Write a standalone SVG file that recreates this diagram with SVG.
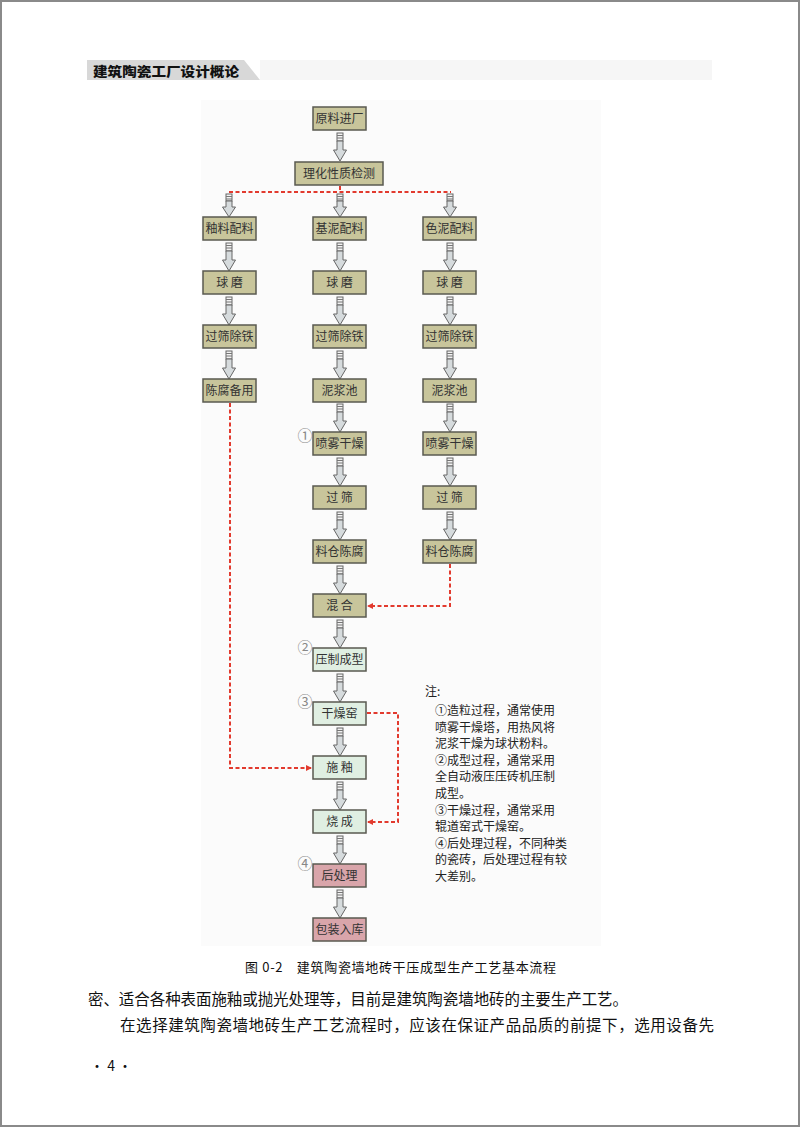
<svg xmlns="http://www.w3.org/2000/svg" width="800" height="1127" viewBox="0 0 800 1127">
<defs>
<style>
.olive{fill:#c8c59b;stroke:#5a5a50;stroke-width:1.5}
.mint{fill:#e0efe2;stroke:#5a5a50;stroke-width:1.5}
.pink{fill:#d9a5aa;stroke:#5a5a50;stroke-width:1.5}
.lbl{font-family:"Noto Sans CJK SC",sans-serif;font-size:12px;fill:#333;text-anchor:middle}
.num{font-family:"Noto Sans CJK SC",sans-serif;font-size:15px;fill:#888;text-anchor:middle}
.note{font-family:"Noto Sans CJK SC",sans-serif;font-size:12px;fill:#222}
.body{font-family:"Noto Sans CJK SC",sans-serif;font-size:15.5px;fill:#111}
.red{fill:none;stroke:#e23a2e;stroke-width:2;stroke-dasharray:4 2.5}
</style>
<g id="arrowL">
<rect x="-3" y="2" width="6" height="8" fill="#f2f2f2" stroke="#666" stroke-width="1"/>
<line x1="-3" y1="4.5" x2="3" y2="4.5" stroke="#777" stroke-width="1"/>
<line x1="-3" y1="7" x2="3" y2="7" stroke="#777" stroke-width="1"/>
<polygon points="-3,10 3,10 3,19 6.5,19 0,30 -6.5,19 -3,19" fill="#d6dbdd" stroke="#666" stroke-width="1"/>
</g>
<g id="arrowS">
<rect x="-3" y="1" width="6" height="7" fill="#f2f2f2" stroke="#666" stroke-width="1"/>
<line x1="-3" y1="3.5" x2="3" y2="3.5" stroke="#777" stroke-width="1"/>
<line x1="-3" y1="6" x2="3" y2="6" stroke="#777" stroke-width="1"/>
<polygon points="-3,8 3,8 3,14 6.5,14 0,24 -6.5,14 -3,14" fill="#d6dbdd" stroke="#666" stroke-width="1"/>
</g>
<marker id="redArrow" markerWidth="6" markerHeight="6" refX="5" refY="3" orient="auto" markerUnits="userSpaceOnUse">
<polygon points="0,0 6,3 0,6" fill="#e23a2e"/>
</marker>
</defs>
<rect x="0" y="0" width="800" height="1127" fill="#ffffff"/>
<rect x="1" y="1" width="798" height="1125" fill="none" stroke="#8a8a8a" stroke-width="2"/>
<g id="header">
<rect x="260" y="60" width="452" height="20" fill="#f6f6f6"/>
<polygon points="87,60 244,60 260,80 87,80" fill="#d8d8d8"/>
<text x="93" y="76" font-family="Noto Sans CJK SC,sans-serif" font-size="13" font-weight="900" fill="#111" textLength="146" lengthAdjust="spacingAndGlyphs">建筑陶瓷工厂设计概论</text>
</g>
<rect x="201" y="100" width="400" height="846" fill="#fbfbfb"/>
<g id="connectors">
<use href="#arrowL" x="340" y="131"/>
<line x1="340" y1="186" x2="340" y2="192" class="red"/>
<line x1="229" y1="192" x2="451" y2="192" class="red"/>
<use href="#arrowS" x="229" y="193"/>
<use href="#arrowS" x="340" y="193"/>
<use href="#arrowS" x="450" y="193"/>
<use href="#arrowL" x="229" y="241"/>
<use href="#arrowL" x="229" y="295"/>
<use href="#arrowL" x="229" y="349"/>
<use href="#arrowL" x="340" y="241"/>
<use href="#arrowL" x="340" y="295"/>
<use href="#arrowL" x="340" y="349"/>
<use href="#arrowL" x="340" y="402"/>
<use href="#arrowL" x="340" y="456"/>
<use href="#arrowL" x="340" y="510"/>
<use href="#arrowL" x="340" y="564"/>
<use href="#arrowL" x="340" y="618"/>
<use href="#arrowL" x="340" y="672"/>
<use href="#arrowL" x="340" y="726"/>
<use href="#arrowL" x="340" y="780"/>
<use href="#arrowL" x="340" y="834"/>
<use href="#arrowL" x="340" y="888"/>
<use href="#arrowL" x="450" y="241"/>
<use href="#arrowL" x="450" y="295"/>
<use href="#arrowL" x="450" y="349"/>
<use href="#arrowL" x="450" y="402"/>
<use href="#arrowL" x="450" y="456"/>
<use href="#arrowL" x="450" y="510"/>
<polyline points="230,403 230,768 311,768" class="red" marker-end="url(#redArrow)"/>
<polyline points="450,564 450,606 368,606" class="red" marker-end="url(#redArrow)"/>
<polyline points="367,713 398,713 398,822 368,822" class="red" marker-end="url(#redArrow)"/>
</g>
<g id="n1"><rect x="313" y="107" width="53" height="23" class="olive"/><text x="339.5" y="123" class="lbl">原料进厂</text></g>
<g id="n2"><rect x="295" y="162" width="88" height="23" class="olive"/><text x="339" y="178" class="lbl">理化性质检测</text></g>
<g id="l1"><rect x="203" y="217" width="53" height="23" class="olive"/><text x="229.5" y="233" class="lbl">釉料配料</text></g>
<g id="l2"><rect x="203" y="271" width="53" height="23" class="olive"/><text x="229.5" y="287" class="lbl">球 磨</text></g>
<g id="l3"><rect x="203" y="325" width="53" height="23" class="olive"/><text x="229.5" y="341" class="lbl">过筛除铁</text></g>
<g id="l4"><rect x="203" y="379" width="53" height="23" class="olive"/><text x="229.5" y="395" class="lbl">陈腐备用</text></g>
<g id="m1"><rect x="313" y="217" width="53" height="23" class="olive"/><text x="339.5" y="233" class="lbl">基泥配料</text></g>
<g id="m2"><rect x="313" y="271" width="53" height="23" class="olive"/><text x="339.5" y="287" class="lbl">球 磨</text></g>
<g id="m3"><rect x="313" y="325" width="53" height="23" class="olive"/><text x="339.5" y="341" class="lbl">过筛除铁</text></g>
<g id="m4"><rect x="313" y="379" width="53" height="23" class="olive"/><text x="339.5" y="395" class="lbl">泥浆池</text></g>
<g id="m5"><rect x="313" y="432" width="53" height="23" class="olive"/><text x="339.5" y="448" class="lbl">喷雾干燥</text><text x="305" y="441" class="num">①</text></g>
<g id="m6"><rect x="313" y="486" width="53" height="23" class="olive"/><text x="339.5" y="502" class="lbl">过 筛</text></g>
<g id="m7"><rect x="313" y="540" width="53" height="23" class="olive"/><text x="339.5" y="556" class="lbl">料仓陈腐</text></g>
<g id="m8"><rect x="313" y="594" width="53" height="23" class="olive"/><text x="339.5" y="610" class="lbl">混 合</text></g>
<g id="m9"><rect x="313" y="648" width="53" height="23" class="mint"/><text x="339.5" y="664" class="lbl">压制成型</text><text x="305" y="653" class="num">②</text></g>
<g id="m10"><rect x="313" y="702" width="53" height="23" class="mint"/><text x="339.5" y="718" class="lbl">干燥窑</text><text x="305" y="707" class="num">③</text></g>
<g id="m11"><rect x="313" y="756" width="53" height="23" class="mint"/><text x="339.5" y="772" class="lbl">施 釉</text></g>
<g id="m12"><rect x="313" y="810" width="53" height="23" class="mint"/><text x="339.5" y="826" class="lbl">烧 成</text></g>
<g id="m13"><rect x="313" y="864" width="53" height="23" class="pink"/><text x="339.5" y="880" class="lbl">后处理</text><text x="305" y="869" class="num">④</text></g>
<g id="m14"><rect x="313" y="918" width="53" height="23" class="pink"/><text x="339.5" y="934" class="lbl">包装入库</text></g>
<g id="r1"><rect x="423" y="217" width="53" height="23" class="olive"/><text x="449.5" y="233" class="lbl">色泥配料</text></g>
<g id="r2"><rect x="423" y="271" width="53" height="23" class="olive"/><text x="449.5" y="287" class="lbl">球 磨</text></g>
<g id="r3"><rect x="423" y="325" width="53" height="23" class="olive"/><text x="449.5" y="341" class="lbl">过筛除铁</text></g>
<g id="r4"><rect x="423" y="379" width="53" height="23" class="olive"/><text x="449.5" y="395" class="lbl">泥浆池</text></g>
<g id="r5"><rect x="423" y="432" width="53" height="23" class="olive"/><text x="449.5" y="448" class="lbl">喷雾干燥</text></g>
<g id="r6"><rect x="423" y="486" width="53" height="23" class="olive"/><text x="449.5" y="502" class="lbl">过 筛</text></g>
<g id="r7"><rect x="423" y="540" width="53" height="23" class="olive"/><text x="449.5" y="556" class="lbl">料仓陈腐</text></g>
<g id="notes" class="note">
<text x="425" y="696">注:</text>
<text x="435" y="715">①造粒过程，通常使用</text>
<text x="435" y="732">喷雾干燥塔，用热风将</text>
<text x="435" y="748">泥浆干燥为球状粉料。</text>
<text x="435" y="765">②成型过程，通常采用</text>
<text x="435" y="781">全自动液压压砖机压制</text>
<text x="435" y="798">成型。</text>
<text x="435" y="815">③干燥过程，通常采用</text>
<text x="435" y="831">辊道窑式干燥窑。</text>
<text x="435" y="848">④后处理过程，不同种类</text>
<text x="435" y="864">的瓷砖，后处理过程有较</text>
<text x="435" y="881">大差别。</text>
</g>
<text x="245" y="972" font-family="Noto Sans CJK SC,sans-serif" font-size="13" fill="#111" textLength="311" lengthAdjust="spacing">图 0-2　建筑陶瓷墙地砖干压成型生产工艺基本流程</text>
<text x="88" y="1005" class="body" textLength="540" lengthAdjust="spacing">密、适合各种表面施釉或抛光处理等，目前是建筑陶瓷墙地砖的主要生产工艺。</text>
<text x="120" y="1031" class="body" textLength="594" lengthAdjust="spacing">在选择建筑陶瓷墙地砖生产工艺流程时，应该在保证产品品质的前提下，选用设备先</text>
<text x="90" y="1071" font-family="Noto Sans CJK SC,sans-serif" font-size="14" fill="#111">· 4 ·</text>
</svg>
